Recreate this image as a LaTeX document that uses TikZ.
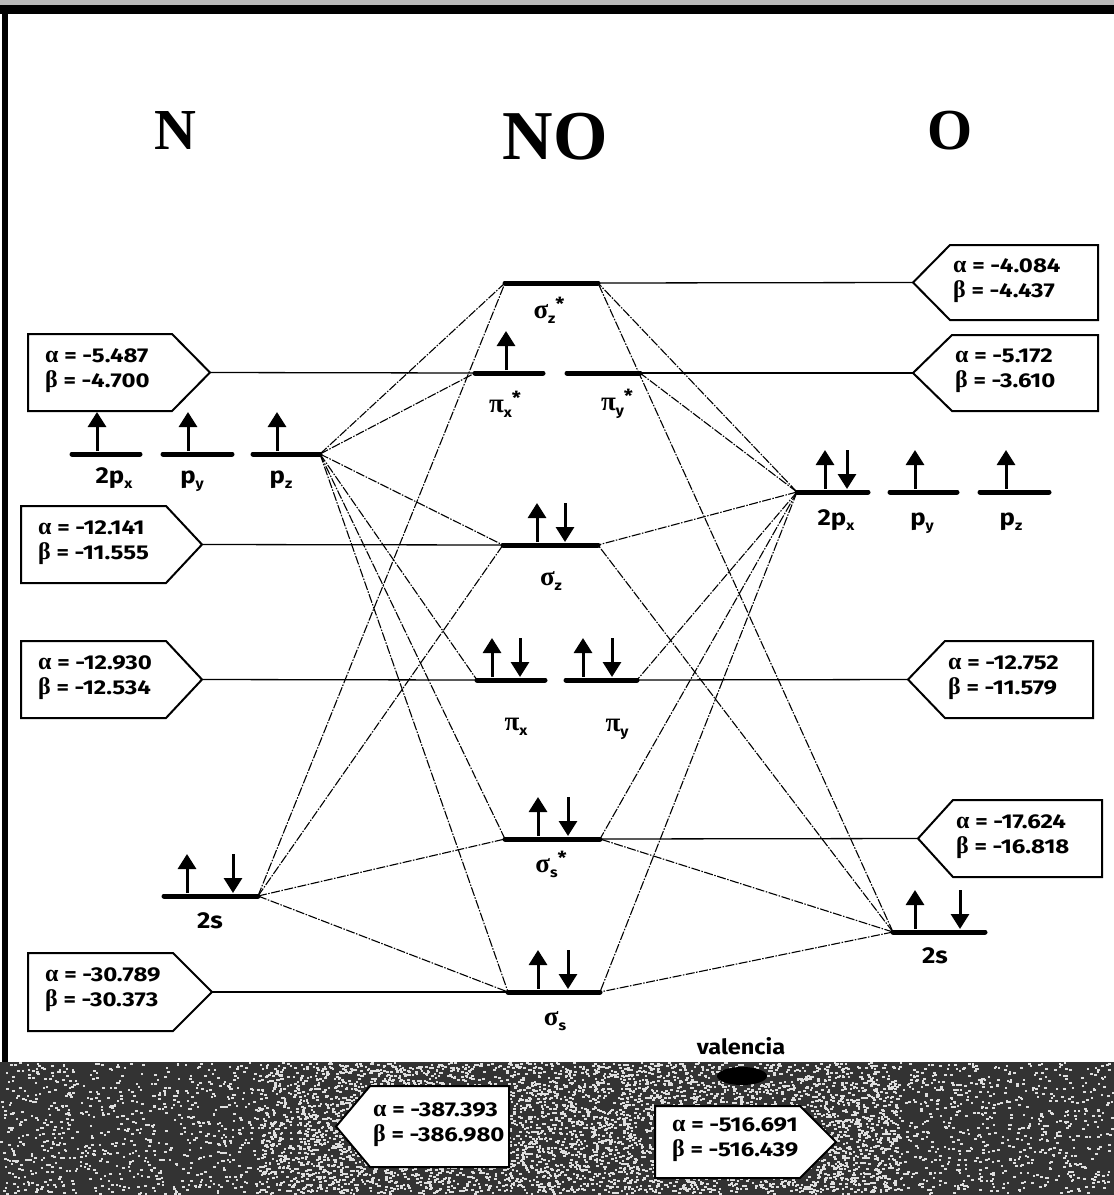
\documentclass[tikz,border=0pt]{standalone}
\usepackage{fontspec}
\setmainfont{Liberation Serif}
\newfontfamily\labfont{Fira Sans}[FakeStretch=1.12]
\newfontfamily\valfont{Fira Sans}[FakeStretch=1.2]
\newfontfamily\grkfont{Liberation Serif}
\usetikzlibrary{arrows.meta}

% Greek letters in a serif face, subscripts and stars for orbital names
\newcommand\gk[1]{{\grkfont\bfseries\fontsize{24}{25}\selectfont #1}}
\newcommand\lsub[1]{\raisebox{-5pt}{\labfont\bfseries\fontsize{14}{14}\selectfont #1}}
\newcommand\lstar{\raisebox{8pt}{\labfont\bfseries\fontsize{18}{18}\selectfont *}}
\newcommand\abvals[2]{\gk{α} = #1\\\gk{β} = #2}

% box pointing right: x0, xc, xp, top, bottom, name, alpha, beta
\newcommand\boxptR[8]{%
  \draw[boxln] (#1,#4) -- (#2,#4) -- (#3,{(#4+#5)/2}) -- (#2,#5) -- (#1,#5) -- cycle;
  \coordinate (#6) at (#3,{(#4+#5)/2});
  \node[vals] (#6-txt) at ({#1+17},{(#4+#5)/2-2}) {\abvals{#7}{#8}};}
% box pointing left: xp, xc, x1, top, bottom, name, alpha, beta
\newcommand\boxptL[8]{%
  \draw[boxln] (#3,#4) -- (#2,#4) -- (#1,{(#4+#5)/2}) -- (#2,#5) -- (#3,#5) -- cycle;
  \coordinate (#6) at (#1,{(#4+#5)/2});
  \node[vals] (#6-txt) at ({#2+3},{(#4+#5)/2-2}) {\abvals{#7}{#8}};}

\begin{document}
\begin{tikzpicture}[x=1pt,y=-1pt,
  levelln/.style={line width=5pt,line cap=round},
  spin/.style={line width=3pt,-{Triangle[width=18pt,length=15pt]}},
  corr/.style={line width=1.1pt,dash pattern=on 9pt off 1.5pt on 1.5pt off 1.5pt},
  hline/.style={line width=1.3pt},
  boxln/.style={line width=2pt,fill=white,line join=miter},
  vals/.style={font=\valfont\bfseries\fontsize{20}{25}\selectfont,align=left,inner sep=0pt,anchor=west},
  orb/.style={font=\labfont\bfseries\fontsize{23}{23}\selectfont,inner sep=0pt,anchor=base},
  mol/.style={font=\grkfont\bfseries\fontsize{27}{27}\selectfont,inner sep=0pt},
  ttl/.style={font=\bfseries\fontsize{58}{58}\selectfont,inner sep=0pt}
]
\useasboundingbox (0,0) rectangle (1114,1195);

% page frame
\fill[gray!55] (0,0) rectangle (1114,5);
\fill[black] (0,5) rectangle (1114,14);
\fill[black] (2,5) rectangle (8,1062);

% textured band at the foot
\fill[black!80] (0,1062) rectangle (1114,1195);
\pgfmathsetseed{12}
\foreach \k in {1,...,3200}{
  \pgfmathsetmacro\sx{rnd*1112}
  \pgfmathsetmacro\sy{1062+rnd*131}
  \fill[gray!25] (\sx,\sy) rectangle ++(2.6,2);
}
\foreach \k in {1,...,3600}{
  \pgfmathsetmacro\sx{260+rnd*640}
  \pgfmathsetmacro\sy{1062+rnd*131}
  \fill[gray!25] (\sx,\sy) rectangle ++(2.6,2);
}

% titles
\node[ttl] (tN) at (175,131) {N};
\node[ttl,font=\bfseries\fontsize{70}{70}\selectfont] (tNO) at (555,137) {NO};
\node[ttl] (tO) at (950,131) {O};

% energy levels: end points
\coordinate (NpxL) at (72,454);  \coordinate (NpxR) at (140,454);
\coordinate (NpyL) at (163,454); \coordinate (NpyR) at (232,454);
\coordinate (NpzL) at (253,454); \coordinate (NpzR) at (320,454);
\coordinate (NsL) at (164,896);  \coordinate (NsR) at (258,896);
\coordinate (szsL) at (505,283); \coordinate (szsR) at (598,283);
\coordinate (pxsL) at (475,373); \coordinate (pxsR) at (543,373);
\coordinate (pysL) at (567,373); \coordinate (pysR) at (640,373);
\coordinate (szL) at (503,545);  \coordinate (szR) at (598,545);
\coordinate (pxL) at (477,680);  \coordinate (pxR) at (545,680);
\coordinate (pyL) at (566,680);  \coordinate (pyR) at (637,680);
\coordinate (sssL) at (505,839); \coordinate (sssR) at (600,839);
\coordinate (ssL) at (508,992);  \coordinate (ssR) at (600,992);
\coordinate (OpxL) at (797,492); \coordinate (OpxR) at (868,492);
\coordinate (OpyL) at (890,492); \coordinate (OpyR) at (957,492);
\coordinate (OpzL) at (980,492); \coordinate (OpzR) at (1049,492);
\coordinate (OsL) at (893,932);  \coordinate (OsR) at (985,932);

% energy boxes
\boxptR{28}{172}{210}{334}{411}{bA}{-5.487}{-4.700}
\boxptR{21}{166}{202}{506}{583}{bB}{-12.141}{-11.555}
\boxptR{21}{166}{202}{641}{718}{bC}{-12.930}{-12.534}
\boxptR{28}{173}{212}{953}{1031}{bD}{-30.789}{-30.373}
\boxptL{913}{950}{1098}{245}{320}{bE}{-4.084}{-4.437}
\boxptL{913}{952}{1098}{335}{411}{bF}{-5.172}{-3.610}
\boxptL{908}{945}{1093}{641}{718}{bG}{-12.752}{-11.579}
\boxptL{918}{953}{1102}{800}{877}{bH}{-17.624}{-16.818}
\boxptL{336}{370}{509}{1086}{1167}{bI}{-387.393}{-386.980}
\boxptR{655}{800}{836}{1106}{1178}{bJ}{-516.691}{-516.439}

% leaders from the boxes to the levels
\draw[hline] (bA) -- (pxsL);
\draw[hline] (bB) -- (szL);
\draw[hline] (bC) -- (pxL);
\draw[hline] (bD) -- (ssL);
\draw[hline] (szsR) -- (bE);
\draw[hline] (pysR) -- (bF);
\draw[hline] (pyR) -- (bG);
\draw[hline] (sssR) -- (bH);

% correlation lines, N side
\foreach \m in {szsL,pxsL,szL,pxL,sssL,ssL} \draw[corr] (NpzR) -- (\m);
\foreach \m in {szsL,szL,sssL,ssL} \draw[corr] (NsR) -- (\m);
% correlation lines, O side
\foreach \m in {szsR,pysR,szR,pyR,sssR,ssR} \draw[corr] (OpxL) -- (\m);
\foreach \m in {szsR,szR,sssR,ssR} \draw[corr] (OsL) -- (\m);

% levels
\foreach \lv in {Npx,Npy,Npz,Ns,szs,pxs,pys,sz,px,py,sss,ss,Opx,Opy,Opz,Os}
  \draw[levelln] (\lv L) -- (\lv R);

% electrons
\foreach \x/\y in {97/454,188/454,277/454,187/896,506/373,537/545,492/680,583/680,
                   538/839,538/992,825/492,915/492,1006/492,915/932}
  \draw[spin] (\x,{\y-3}) -- (\x,{\y-42});
\foreach \x/\y in {233/896,565/545,520/680,612/680,568/839,568/992,847/492,960/932}
  \draw[spin] (\x,{\y-42}) -- (\x,{\y-3});

% atomic orbital labels
\node[orb] (lNpx) at (114,483) {2p\lsub{x}};
\node[orb] (lNpy) at (192,483) {p\lsub{y}};
\node[orb] (lNpz) at (281,483) {p\lsub{z}};
\node[orb] (lNs) at (210,928) {2s};
\node[orb] (lOpx) at (836,525) {2p\lsub{x}};
\node[orb] (lOpy) at (922,525) {p\lsub{y}};
\node[orb] (lOpz) at (1011,525) {p\lsub{z}};
\node[orb] (lOs) at (935,963) {2s};

% molecular orbital labels
\node[mol] (lszs) at (549,310) {σ\lsub{z}\lstar};
\node[mol] (lpxs) at (505,404) {π\lsub{x}\lstar};
\node[mol] (lpys) at (617,404) {π\lsub{y}\lstar};
\node[mol] (lsz) at (551,581) {σ\lsub{z}};
\node[mol] (lpx) at (516,727) {π\lsub{x}};
\node[mol] (lpy) at (617,729) {π\lsub{y}};
\node[mol] (lsss) at (551,864) {σ\lsub{s}\lstar};
\node[mol] (lss) at (555,1021) {σ\lsub{s}};

% valence note
\node[font=\labfont\bfseries\fontsize{21}{21}\selectfont,inner sep=0pt] (val) at (741,1046) {valencia};
\fill[black] (742,1076) ellipse [x radius=25pt, y radius=9pt];
\end{tikzpicture}
\end{document}
